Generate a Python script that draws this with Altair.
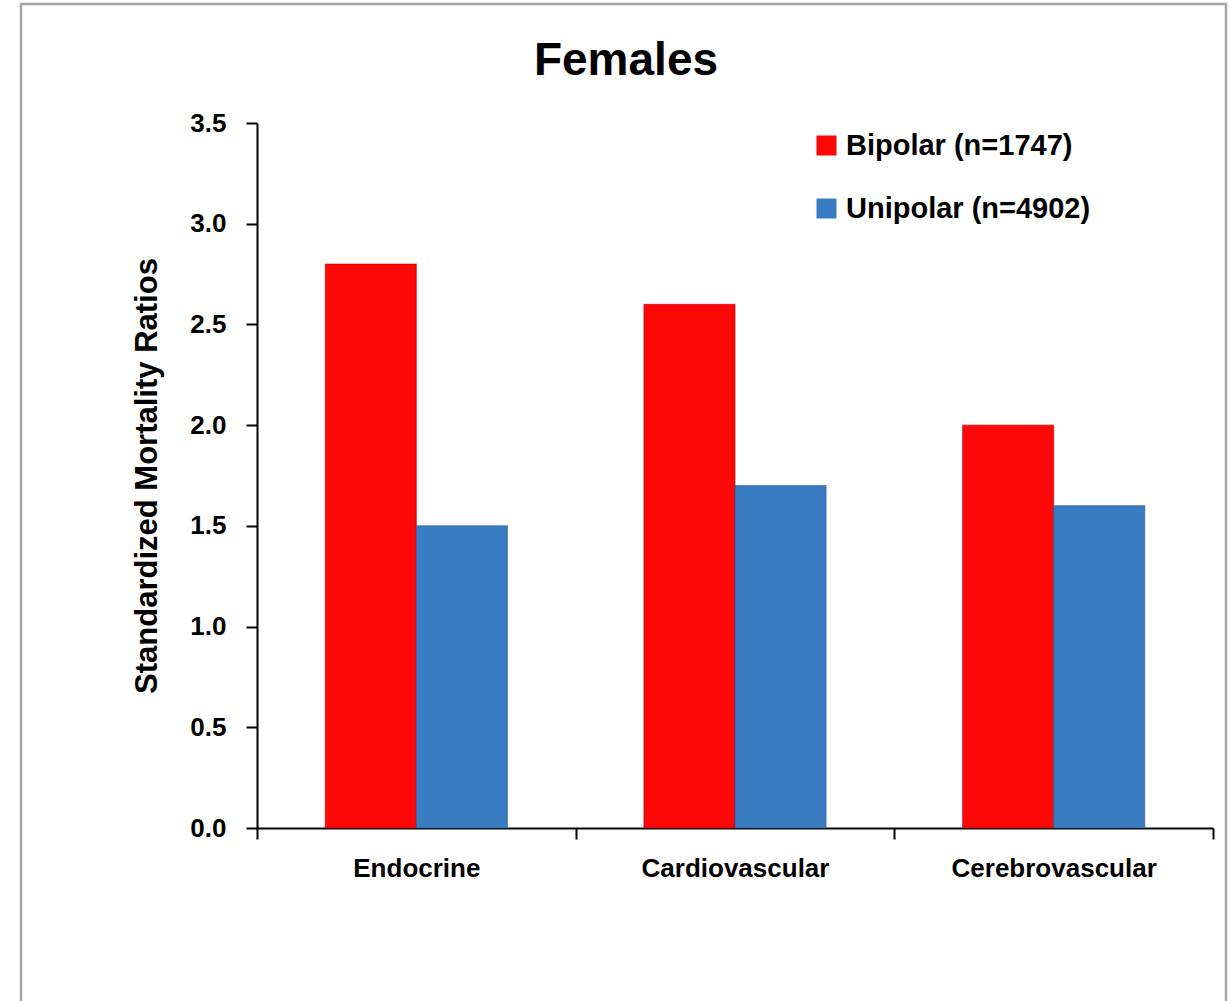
import altair as alt
import pandas as pd

# Standardized mortality ratios for females, by cause of death
causes = ["Endocrine", "Cardiovascular", "Cerebrovascular"]
groups = ["Bipolar (n=1747)", "Unipolar (n=4902)"]
bipolar_smr = [2.8, 2.6, 2.0]
unipolar_smr = [1.5, 1.7, 1.6]
y_ticks = [0.0, 0.5, 1.0, 1.5, 2.0, 2.5, 3.0, 3.5]

rows = []
for cause, b, u in zip(causes, bipolar_smr, unipolar_smr):
    rows.append({"cause": cause, "group": groups[0], "smr": b})
    rows.append({"cause": cause, "group": groups[1], "smr": u})
df = pd.DataFrame(rows)

FONT = "Liberation Sans"

bars = alt.Chart(df).mark_bar(strokeWidth=1.2, strokeOpacity=0.55).encode(
    x=alt.X(
        "cause:N",
        sort=causes,
        scale=alt.Scale(paddingInner=0, paddingOuter=0),
        axis=alt.Axis(
            title=None,
            labelAngle=0,
            tickBand="extent",
            labelFontSize=26,
            labelPadding=16,
            labelLimit=0,
        ),
    ),
    xOffset=alt.XOffset(
        "group:N", sort=groups, scale=alt.Scale(paddingInner=0, paddingOuter=0.75)
    ),
    y=alt.Y(
        "smr:Q",
        scale=alt.Scale(domain=[0, 3.5], nice=False),
        axis=alt.Axis(
            title="Standardized Mortality Ratios",
            values=y_ticks,
            format=".1f",
            labelFontSize=26,
            labelPadding=20,
            titleFontSize=31,
            titlePadding=26,
        ),
    ),
    color=alt.Color(
        "group:N",
        sort=groups,
        scale=alt.Scale(domain=groups, range=["#FE0707", "#3A7CC2"]),
        legend=alt.Legend(
            title=None,
            orient="none",
            legendX=555,
            legendY=8,
            symbolType="square",
            symbolSize=400,
            symbolStrokeWidth=0,
            labelFontSize=29,
            labelOffset=5,
            labelLimit=0,
            rowPadding=33,
        ),
    ),
    stroke=alt.Stroke(
        "group:N",
        sort=groups,
        scale=alt.Scale(domain=groups, range=["#B80000", "#25588F"]),
        legend=None,
    ),
)

# light grey border around the whole figure
frame = alt.Chart(pd.DataFrame({"k": [0]})).mark_rect(
    fill="transparent", stroke="#A6A6A6", strokeWidth=2.5
).encode(
    x=alt.value(-236),
    x2=alt.value(969),
    y=alt.value(-119),
    y2=alt.value(900),
)

chart = (
    alt.layer(frame, bars)
    .properties(
        width=956,
        height=705,
        title=alt.TitleParams(
            "Females",
            fontSize=46,
            offset=50,
            dy=168,
            dx=-109,
            anchor="middle",
            frame="group",
            baseline="alphabetic",
        ),
        autosize=alt.AutoSizeParams(type="none"),
        padding={"left": 257, "top": 123, "right": 16, "bottom": 173},
    )
    .configure(font=FONT)
    .configure_view(stroke=None)
    .configure_axis(
        labelFont=FONT,
        titleFont=FONT,
        labelFontWeight="bold",
        titleFontWeight="bold",
        labelColor="black",
        titleColor="black",
        domainColor="black",
        domainWidth=2,
        tickColor="black",
        tickWidth=2,
        tickSize=11,
        grid=False,
    )
    .configure_legend(labelFont=FONT, labelFontWeight="bold", labelColor="black")
    .configure_title(font=FONT, fontWeight="bold", color="black")
)

chart.save("out.html", embed_options={"renderer": "svg", "actions": False})
